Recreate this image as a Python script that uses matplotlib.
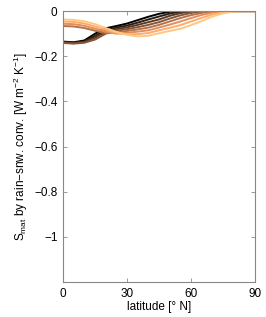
import numpy as np
import matplotlib
matplotlib.use("Agg")
import matplotlib.pyplot as plt

plt.rcParams['font.family'] = ['Liberation Sans', 'DejaVu Sans']
plt.rcParams['mathtext.default'] = 'regular'

lat = [0, 5, 10, 15, 20, 25, 30, 35, 40, 45, 50, 55, 60, 65, 70, 75, 80, 85, 90]

s1 = [-0.135, -0.138, -0.130, -0.100, -0.076, -0.066, -0.055, -0.040, -0.025, -0.012, -0.003, 0, 0, 0, 0, 0, 0, 0, 0]
s2 = [-0.137, -0.140, -0.134, -0.110, -0.084, -0.073, -0.064, -0.051, -0.037, -0.024, -0.011, -0.003, 0, 0, 0, 0, 0, 0, 0]
s3 = [-0.139, -0.142, -0.137, -0.118, -0.092, -0.080, -0.072, -0.061, -0.049, -0.037, -0.021, -0.009, -0.002, 0, 0, 0, 0, 0, 0]
s4 = [-0.141, -0.144, -0.140, -0.126, -0.100, -0.087, -0.080, -0.071, -0.061, -0.049, -0.033, -0.019, -0.008, -0.002, 0, 0, 0, 0, 0]
s5 = [-0.066, -0.068, -0.075, -0.087, -0.097, -0.094, -0.088, -0.081, -0.073, -0.061, -0.046, -0.031, -0.018, -0.008, -0.002, 0, 0, 0, 0]
s6 = [-0.056, -0.058, -0.065, -0.078, -0.091, -0.100, -0.096, -0.091, -0.085, -0.073, -0.060, -0.046, -0.031, -0.017, -0.007, -0.002, 0, 0, 0]
s7 = [-0.046, -0.048, -0.055, -0.068, -0.083, -0.097, -0.103, -0.102, -0.097, -0.085, -0.074, -0.062, -0.046, -0.030, -0.015, -0.005, -0.001, 0, 0]
s8 = [-0.037, -0.039, -0.045, -0.058, -0.075, -0.092, -0.105, -0.112, -0.109, -0.098, -0.088, -0.078, -0.062, -0.044, -0.024, -0.010, -0.002, 0, 0]
series = [s1, s2, s3, s4, s5, s6, s7, s8]

xticks = [0, 30, 60, 90]
yticks = [0, -0.2, -0.4, -0.6, -0.8, -1]
yticklabels = ['0', '\u22120.2', '\u22120.4', '\u22120.6', '\u22120.8', '\u22121']

fig = plt.figure(figsize=(2.66, 3.17), dpi=100)
ax = fig.add_axes([0.237, 0.110, 0.722, 0.855])

colors = plt.cm.copper(np.linspace(0, 1, len(series)))
for s, c in zip(series, colors):
    ax.plot(lat, s, color=c, lw=1.4, solid_capstyle='round', solid_joinstyle='round')

ax.set_xlim(0, 90)
ax.set_ylim(-1.2, 0)
ax.set_xticks(xticks)
ax.set_xticklabels([str(t) for t in xticks])
ax.set_yticks(yticks)
ax.set_yticklabels(yticklabels)
ax.tick_params(direction='in', length=3, width=0.6, color='#888888', labelsize=8.5,
               top=True, right=True, pad=4)
for sp in ax.spines.values():
    sp.set_color('#888888')
    sp.set_linewidth(0.8)

ax.set_xlabel('latitude [\u00b0 N]', fontsize=8.5, labelpad=1)
ax.set_ylabel('S$_{mat}$ by rain\u2212snw. conv. [W m$^{-2}$ K$^{-1}$]', fontsize=8.5, labelpad=3)

fig.savefig('out.png', dpi=100)
